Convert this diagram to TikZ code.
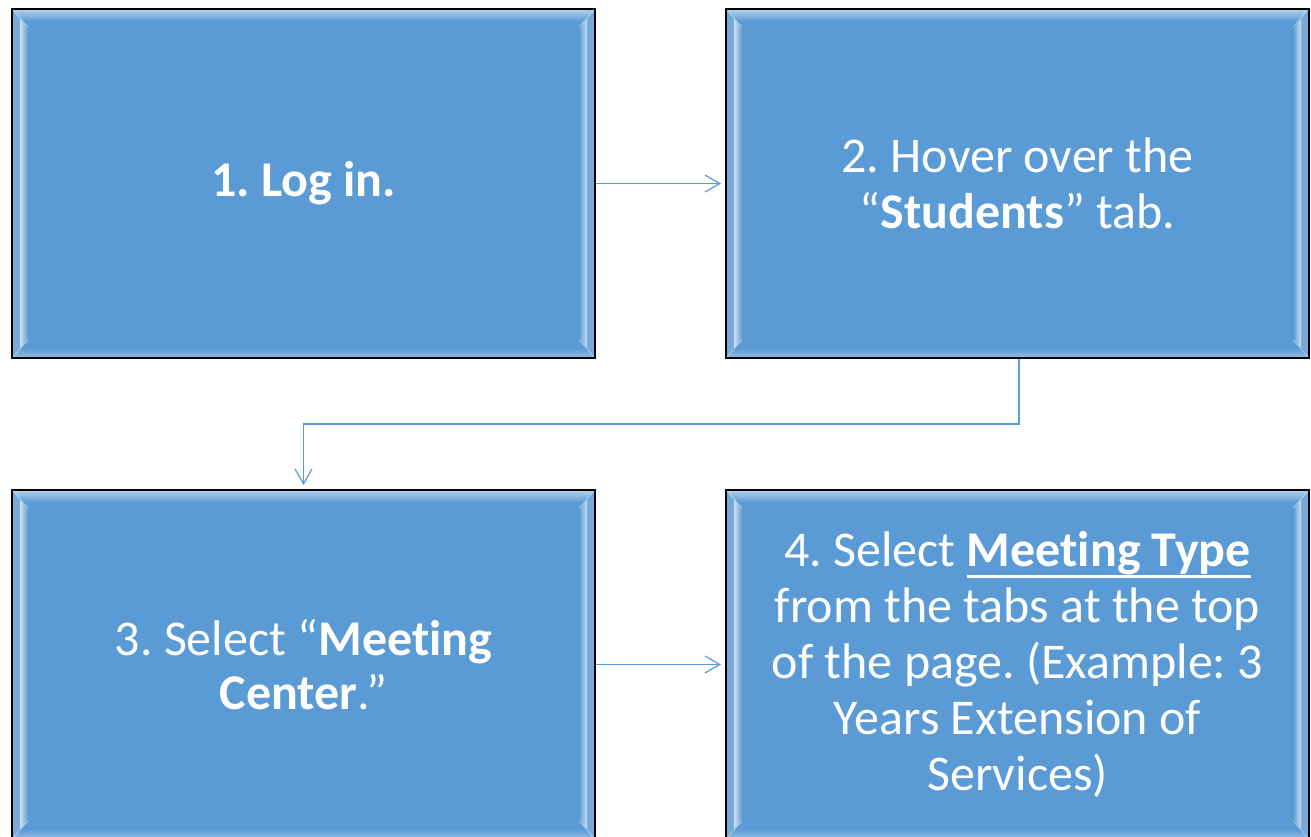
\documentclass[tikz,border=0pt]{standalone}
\usepackage{fontspec}
\setmainfont{Carlito}[Ligatures=NoCommon]
\usetikzlibrary{arrows.meta}
\frenchspacing
\definecolor{boxblue}{HTML}{5B9BD5}
\definecolor{hilite}{HTML}{D6F1FF}
\definecolor{bvedge}{HTML}{78A9D8}
\newcommand\thickul[1]{\setbox0\hbox{#1}\rlap{\rule[-11pt]{\wd0}{3pt}}\box0}
\newcommand\Mtg{Meet\kern0pt ing}
\begin{document}
\begin{tikzpicture}[x=1pt,y=-1pt,
  stepbox/.style={draw=black, line width=1.8pt, fill=boxblue,
    minimum width=583pt, minimum height=349pt, inner sep=0pt,
    text=white, align=center,
    path picture={
      \coordinate (NW) at (path picture bounding box.north west);
      \coordinate (SE) at (path picture bounding box.south east);
      \coordinate (NE) at (path picture bounding box.north east);
      \coordinate (SW) at (path picture bounding box.south west);
      % top and bottom soft bands
      \shade[top color=boxblue!45!white, bottom color=boxblue]
        (NW) rectangle ([yshift=-12pt]NE);
      \shade[bottom color=boxblue!65!white, top color=boxblue]
        ([yshift=10pt]SW) rectangle (SE);
      % side edge bands
      \fill[bvedge] (NW) -- ([shift={(8pt,-10pt)}]NW) -- ([shift={(8pt,10pt)}]SW) -- (SW) -- cycle;
      \fill[bvedge] (NE) -- ([shift={(-8pt,-10pt)}]NE) -- ([shift={(-8pt,10pt)}]SE) -- (SE) -- cycle;
      % side highlights
      \shade[left color=boxblue!30!white, middle color=white, right color=boxblue]
        ([shift={(8pt,-10pt)}]NW) -- ([shift={(16pt,-18pt)}]NW)
        -- ([shift={(16pt,18pt)}]SW) -- ([shift={(8pt,10pt)}]SW) -- cycle;
      \shade[right color=boxblue!30!white, middle color=white, left color=boxblue]
        ([shift={(-8pt,-10pt)}]NE) -- ([shift={(-16pt,-18pt)}]NE)
        -- ([shift={(-16pt,18pt)}]SE) -- ([shift={(-8pt,10pt)}]SE) -- cycle;
      % corner mitres
      \draw[hilite, line width=0.8pt, opacity=.5]
        (NW) -- ([shift={(16pt,-18pt)}]NW)
        (NE) -- ([shift={(-16pt,-18pt)}]NE)
        (SW) -- ([shift={(16pt,18pt)}]SW)
        (SE) -- ([shift={(-16pt,18pt)}]SE);
    }},
  conn/.style={draw=boxblue, line width=1.2pt,
    -{Straight Barb[length=15pt,width=17pt,line width=1.2pt]}}]
\useasboundingbox (0,0) rectangle (1311,837);
\clip (0,0) rectangle (1311,837);
\node[stepbox, font=\fontsize{50}{56}\selectfont\bfseries] (b1) at (303.5,183.5) {1. Log in.};
\node[stepbox, font=\fontsize{50}{56}\selectfont] (b2) at (1017.5,183.5)
  {2. Hover over the\\“\textbf{Students}” tab.};
\node[stepbox, font=\fontsize{50}{54}\selectfont] (b3) at (303.5,664.5)
  {3. Select “\textbf{\Mtg}\\\textbf{Center}.”};
\node[stepbox, font=\fontsize{50}{56}\selectfont] (b4) at (1017.5,664.5)
  {4. Select \thickul{\textbf{\Mtg{} Type}}\\from the tabs at the top\\of the page. (Example: 3\\Years Extension of\\Services)};
\draw[conn, shorten >=4pt] (b1.east) -- (b2.west);
\draw[conn, shorten >=4pt] ([xshift=1.5pt]b2.south) -- ++(0,65) -| (b3.north);
\draw[conn, shorten >=4pt] (b3.east) -- (b4.west);
\end{tikzpicture}
\end{document}
